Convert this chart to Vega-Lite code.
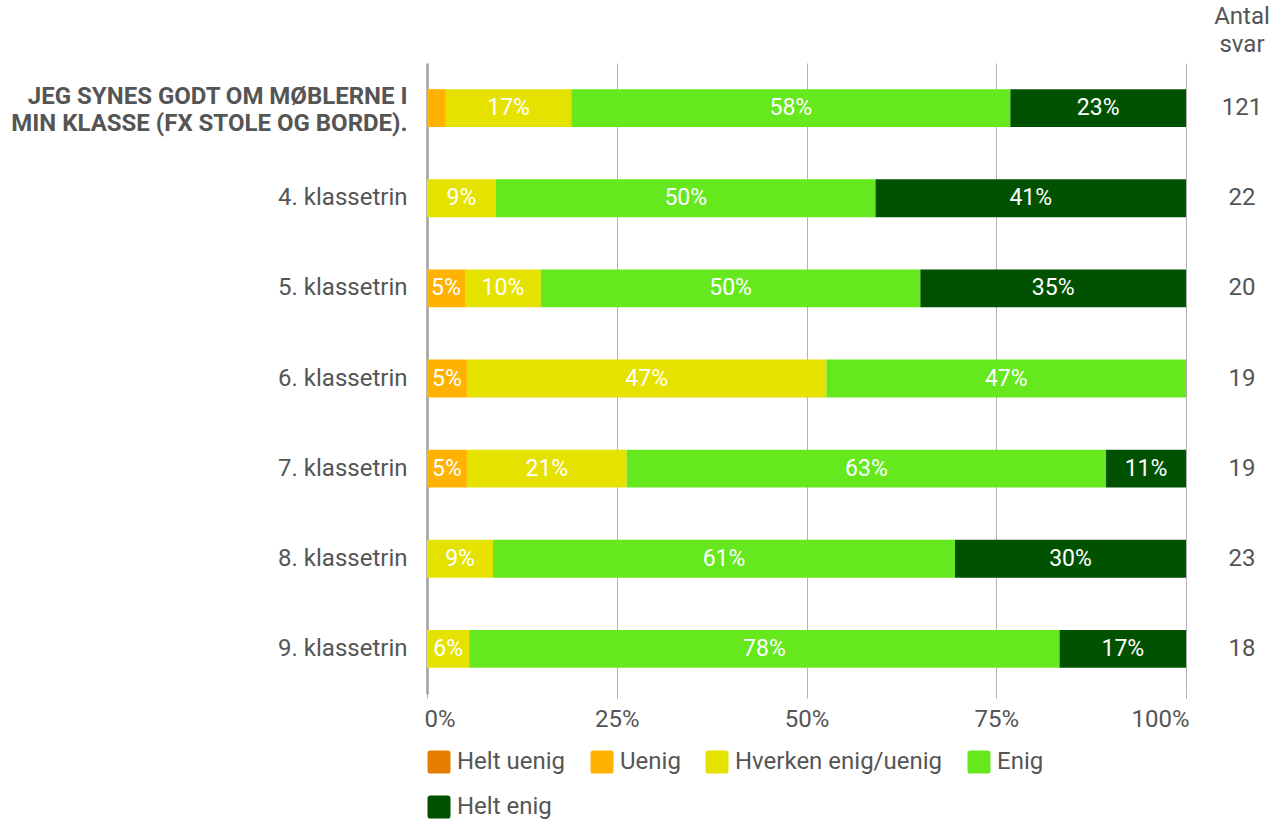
{
  "$schema": "https://vega.github.io/schema/vega-lite/v6.json",
  "padding": {"left": 10, "top": 5, "right": 5, "bottom": 5},
  "background": "white",
  "config": {"font": "Roboto", "view": {"stroke": null}},
  "bounds": "flush",
  "spacing": 16,
  "resolve": {"legend": {"color": "independent"}, "scale": {"color": "independent"}},
  "datasets": {
    "answers": [
      {"row": "JEG SYNES GODT OM MØBLERNE I|MIN KLASSE (FX STOLE OG BORDE).", "answer": "Uenig", "k": 1, "pct": 0.0248},
      {"row": "JEG SYNES GODT OM MØBLERNE I|MIN KLASSE (FX STOLE OG BORDE).", "answer": "Hverken enig/uenig", "k": 2, "pct": 0.1653},
      {"row": "JEG SYNES GODT OM MØBLERNE I|MIN KLASSE (FX STOLE OG BORDE).", "answer": "Enig", "k": 3, "pct": 0.5785},
      {"row": "JEG SYNES GODT OM MØBLERNE I|MIN KLASSE (FX STOLE OG BORDE).", "answer": "Helt enig", "k": 4, "pct": 0.2314},
      {"row": "4. klassetrin", "answer": "Hverken enig/uenig", "k": 2, "pct": 0.0909},
      {"row": "4. klassetrin", "answer": "Enig", "k": 3, "pct": 0.5},
      {"row": "4. klassetrin", "answer": "Helt enig", "k": 4, "pct": 0.4091},
      {"row": "5. klassetrin", "answer": "Uenig", "k": 1, "pct": 0.05},
      {"row": "5. klassetrin", "answer": "Hverken enig/uenig", "k": 2, "pct": 0.1},
      {"row": "5. klassetrin", "answer": "Enig", "k": 3, "pct": 0.5},
      {"row": "5. klassetrin", "answer": "Helt enig", "k": 4, "pct": 0.35},
      {"row": "6. klassetrin", "answer": "Uenig", "k": 1, "pct": 0.0526},
      {"row": "6. klassetrin", "answer": "Hverken enig/uenig", "k": 2, "pct": 0.4737},
      {"row": "6. klassetrin", "answer": "Enig", "k": 3, "pct": 0.4737},
      {"row": "7. klassetrin", "answer": "Uenig", "k": 1, "pct": 0.0526},
      {"row": "7. klassetrin", "answer": "Hverken enig/uenig", "k": 2, "pct": 0.2105},
      {"row": "7. klassetrin", "answer": "Enig", "k": 3, "pct": 0.6316},
      {"row": "7. klassetrin", "answer": "Helt enig", "k": 4, "pct": 0.1053},
      {"row": "8. klassetrin", "answer": "Hverken enig/uenig", "k": 2, "pct": 0.087},
      {"row": "8. klassetrin", "answer": "Enig", "k": 3, "pct": 0.6087},
      {"row": "8. klassetrin", "answer": "Helt enig", "k": 4, "pct": 0.3043},
      {"row": "9. klassetrin", "answer": "Hverken enig/uenig", "k": 2, "pct": 0.0556},
      {"row": "9. klassetrin", "answer": "Enig", "k": 3, "pct": 0.7778},
      {"row": "9. klassetrin", "answer": "Helt enig", "k": 4, "pct": 0.1667}
    ],
    "counts": [
      {"row": "JEG SYNES GODT OM MØBLERNE I|MIN KLASSE (FX STOLE OG BORDE).", "n": 121},
      {"row": "4. klassetrin", "n": 22},
      {"row": "5. klassetrin", "n": 20},
      {"row": "6. klassetrin", "n": 19},
      {"row": "7. klassetrin", "n": 19},
      {"row": "8. klassetrin", "n": 23},
      {"row": "9. klassetrin", "n": 18}
    ]
  },
  "hconcat": [
    {
      "width": 759,
      "height": 631,
      "data": {"name": "answers"},
      "transform": [
        {"stack": "pct", "groupby": ["row"], "sort": [{"field": "k", "order": "ascending"}], "as": ["x0", "x1"]}
      ],
      "encoding": {
        "y": {
          "field": "row",
          "type": "nominal",
          "sort": ["JEG SYNES GODT OM MØBLERNE I|MIN KLASSE (FX STOLE OG BORDE).", "4. klassetrin", "5. klassetrin", "6. klassetrin", "7. klassetrin", "8. klassetrin", "9. klassetrin"],
          "scale": {"paddingInner": 0.58, "paddingOuter": 0.29},
          "axis": {
            "title": null,
            "labelExpr": "split(datum.value, '|')",
            "labelFontSize": 24,
            "labelColor": "#555555",
            "labelFontWeight": {"condition": {"test": "indexof(datum.value, '|') >= 0", "value": "bold"}, "value": "normal"},
            "labelOffset": {"condition": {"test": "indexof(datum.value, '|') >= 0", "value": -11}, "value": 0},
            "labelLineHeight": 27,
            "labelLimit": 600,
            "labelPadding": 20,
            "ticks": false,
            "grid": false,
            "domain": true,
            "domainColor": "#a0a0a0",
            "domainWidth": 2.5
          }
        }
      },
      "layer": [
        {
          "mark": {"type": "bar"},
          "encoding": {
            "x": {
              "field": "x0",
              "type": "quantitative",
              "scale": {"domain": [0, 1]},
              "axis": {
                "title": null,
                "values": [0, 0.25, 0.5, 0.75, 1],
                "format": ".0%",
                "labelFontSize": 24,
                "labelColor": "#555555",
                "labelPadding": 9,
                "labelFlush": true,
                "labelFlushOffset": 3,
                "grid": true,
                "gridColor": "#b3b3b3",
                "gridWidth": 1,
                "domain": false,
                "ticks": true,
                "tickColor": "#b3b3b3",
                "tickSize": 4
              }
            },
            "x2": {"field": "x1"},
            "color": {
              "field": "answer",
              "type": "nominal",
              "scale": {
                "domain": ["Helt uenig", "Uenig", "Hverken enig/uenig", "Enig", "Helt enig"],
                "range": ["#E67C00", "#FFB200", "#E6E200", "#66E81E", "#005100"]
              },
              "legend": {
                "title": null,
                "orient": "bottom",
                "direction": "horizontal",
                "columns": 4,
                "symbolType": "M-1,-0.75Q-1,-1,-0.75,-1H0.75Q1,-1,1,-0.75V0.75Q1,1,0.75,1H-0.75Q-1,1,-1,0.75Z",
                "symbolSize": 529,
                "symbolStrokeWidth": 0,
                "symbolOpacity": 1,
                "labelFontSize": 24,
                "labelColor": "#555555",
                "labelLimit": 400,
                "labelOffset": 6,
                "columnPadding": 24,
                "rowPadding": 21,
                "offset": 19
              }
            }
          }
        },
        {
          "transform": [
            {"filter": "datum.pct > 0.04"},
            {"calculate": "(datum.x0 + datum.x1) / 2", "as": "xmid"}
          ],
          "mark": {"type": "text", "color": "white", "fontSize": 23},
          "encoding": {
            "x": {"field": "xmid", "type": "quantitative"},
            "text": {"field": "pct", "type": "quantitative", "format": ".0%"}
          }
        }
      ]
    },
    {
      "width": 80,
      "height": 631,
      "data": {"name": "counts"},
      "title": {"text": ["Antal", "svar"], "fontSize": 24, "fontWeight": "normal", "color": "#555555", "anchor": "middle", "offset": 6, "lineHeight": 28},
      "mark": {"type": "text", "fontSize": 24, "color": "#555555"},
      "encoding": {
        "y": {
          "field": "row",
          "type": "nominal",
          "sort": ["JEG SYNES GODT OM MØBLERNE I|MIN KLASSE (FX STOLE OG BORDE).", "4. klassetrin", "5. klassetrin", "6. klassetrin", "7. klassetrin", "8. klassetrin", "9. klassetrin"],
          "scale": {"paddingInner": 0.58, "paddingOuter": 0.29},
          "axis": null
        },
        "text": {"field": "n", "type": "quantitative"}
      }
    }
  ]
}
